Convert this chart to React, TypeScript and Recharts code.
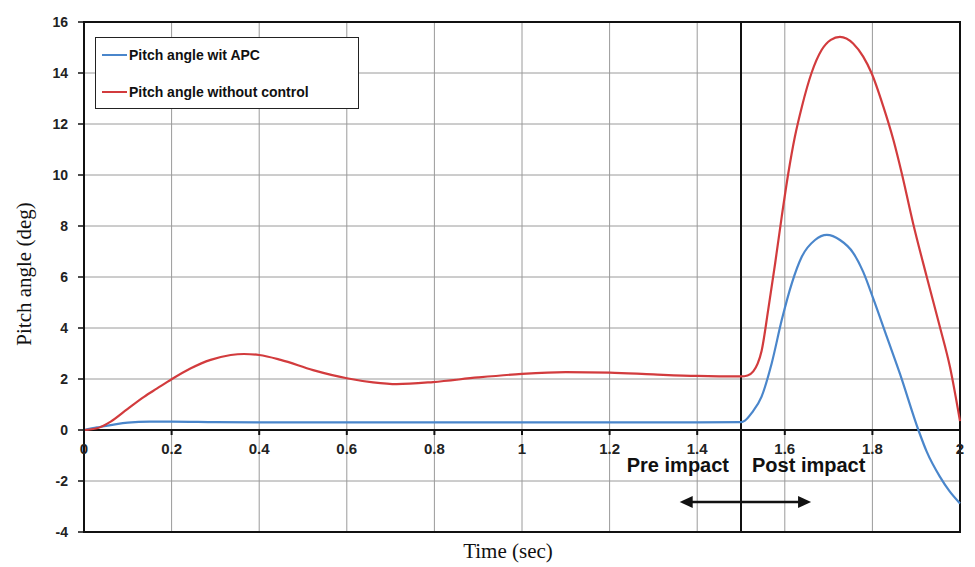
import React from 'react';
import {
  LineChart,
  Line,
  XAxis,
  YAxis,
  CartesianGrid,
  ReferenceLine,
  ReferenceDot,
  ReferenceArea,
  Legend,
} from 'recharts';

// ---- data ----
const xTicks = [0, 0.2, 0.4, 0.6, 0.8, 1, 1.2, 1.4, 1.6, 1.8, 2];
const yTicks = [-4, -2, 0, 2, 4, 6, 8, 10, 12, 14, 16];

const apcTime = [
  0, 0.03, 0.1, 0.15, 0.2, 0.3, 0.4, 0.6, 0.8, 1.0, 1.2, 1.4, 1.5, 1.509, 1.525, 1.547, 1.57,
  1.593, 1.616, 1.639, 1.669, 1.696, 1.726, 1.756, 1.779, 1.802, 1.833, 1.863, 1.905, 1.924,
  1.954, 1.976, 2.0,
];
const apcPitch = [
  0, 0.1, 0.29, 0.33, 0.33, 0.31, 0.3, 0.3, 0.3, 0.3, 0.3, 0.3, 0.31, 0.37, 0.68, 1.31, 2.61,
  4.31, 5.75, 6.8, 7.45, 7.65, 7.45, 6.95, 6.2, 5.15, 3.65, 2.2, 0, -0.85,
  -1.83, -2.4, -2.88,
];

const noCtrlTime = [
  0, 0.03, 0.061, 0.099, 0.137, 0.167, 0.2, 0.244, 0.289, 0.335, 0.365, 0.4, 0.449, 0.523,
  0.6, 0.66, 0.714, 0.797, 0.9, 1.0, 1.1, 1.2, 1.3, 1.4, 1.5, 1.515, 1.528, 1.538, 1.547,
  1.562, 1.578, 1.593, 1.608, 1.623, 1.639, 1.661, 1.684, 1.705, 1.726, 1.756, 1.779, 1.798,
  1.825, 1.848, 1.867, 1.893, 1.924, 1.954, 1.977, 2.0,
];
const noCtrlPitch = [
  0, 0.07, 0.33, 0.82, 1.3, 1.63, 1.99, 2.42, 2.75, 2.94, 2.98, 2.94, 2.75, 2.35,
  2.03, 1.87, 1.8, 1.88, 2.06, 2.2, 2.27, 2.25, 2.18, 2.12, 2.1, 2.14, 2.3, 2.6, 3.1,
  4.7, 6.54, 8.37, 10.07, 11.5, 12.68, 14.0, 14.9, 15.3, 15.42, 15.16, 14.64, 14.0,
  12.68, 11.37, 10.07, 8.1, 6.01, 4.05, 2.48, 0.35,
];

const seriesNames = ['Pitch angle wit APC', 'Pitch angle without control'];
const seriesColors = ['#4A86CB', '#D23B3D'];

const impactTime = 1.5;
const annotationLevel = -1.6;
const preLabel = 'Pre impact';
const postLabel = 'Post impact';
const arrowFrom = 1.36;
const arrowTo = 1.66;
const arrowLevel = -2.82;

const xLabel = 'Time (sec)';
const yLabel = 'Pitch angle (deg)';

const apcData = apcTime.map((t, i) => ({ t, v: apcPitch[i] }));
const noCtrlData = noCtrlTime.map((t, i) => ({ t, v: noCtrlPitch[i] }));

// ---- styles ----
const sansFont = '"Liberation Sans", Arial, sans-serif';
const serifFont = '"Liberation Serif", "Times New Roman", serif';

const XTick = (props: any) => {
  const { cx, cy, value } = props;
  return (
    <g>
      <line x1={cx} y1={cy} x2={cx} y2={cy + 5} stroke="#111" strokeWidth={2} />
      <text
        x={cx}
        y={cy + 24}
        textAnchor="middle"
        fontFamily={sansFont}
        fontWeight="bold"
        fontSize={15}
        fill="#222"
      >
        {value}
      </text>
    </g>
  );
};

const ImpactText = (props: any) => {
  const { cx, cy } = props;
  return (
    <g fontFamily={sansFont} fontWeight="bold" fontSize={20} fill="#111">
      <text x={cx - 12} y={cy + 1} textAnchor="end">
        {preLabel}
      </text>
      <text x={cx + 11} y={cy + 1} textAnchor="start">
        {postLabel}
      </text>
    </g>
  );
};

const DoubleArrow = (props: any) => {
  const { x1, y1, x2, y2 } = props;
  const ah = 13;
  const hw = 6;
  return (
    <g>
      <line x1={x1 + ah - 2} y1={y1} x2={x2 - ah + 2} y2={y2} stroke="#111" strokeWidth={2.5} />
      <polygon points={`${x1},${y1} ${x1 + ah},${y1 - hw} ${x1 + ah},${y1 + hw}`} fill="#111" />
      <polygon points={`${x2},${y2} ${x2 - ah},${y2 - hw} ${x2 - ah},${y2 + hw}`} fill="#111" />
    </g>
  );
};

const LegendBox = () => (
  <div
    style={{
      width: 264,
      height: 72,
      border: '1.5px solid #222',
      background: '#fff',
      fontFamily: sansFont,
      fontWeight: 'bold',
      fontSize: 14,
      color: '#111',
      position: 'relative',
      boxSizing: 'border-box',
    }}
  >
    {seriesNames.map((name, i) => (
      <div
        key={name}
        style={{
          position: 'absolute',
          left: 6,
          top: i === 0 ? 8 : 45,
          display: 'flex',
          alignItems: 'center',
          whiteSpace: 'nowrap',
          height: 18,
        }}
      >
        <span
          style={{
            display: 'inline-block',
            width: 25,
            height: 2,
            background: seriesColors[i],
            marginRight: 2,
          }}
        />
        <span>{name}</span>
      </div>
    ))}
  </div>
);

const YLabel = (props: any) => {
  const { viewBox } = props;
  const cy = viewBox.y + viewBox.height / 2 - 3;
  const x = 31;
  return (
    <text
      x={x}
      y={cy}
      transform={`rotate(-90, ${x}, ${cy})`}
      textAnchor="middle"
      fontFamily={serifFont}
      fontSize={21}
      fill="#111"
    >
      {yLabel}
    </text>
  );
};

const XLabel = (props: any) => {
  const { viewBox } = props;
  return (
    <text
      x={508}
      y={viewBox.y + 26}
      textAnchor="middle"
      fontFamily={serifFont}
      fontSize={21}
      fill="#111"
    >
      {xLabel}
    </text>
  );
};

function XLabelWrap(props: any) {
  return <XLabel {...props} />;
}

function YLabelWrap(props: any) {
  return <YLabel {...props} />;
}

export default function App() {
  return (
    <div style={{ position: 'absolute', left: 0, top: 0, background: '#fff' }}>
      <LineChart
        width={975}
        height={567}
        margin={{ top: 22, right: 15, bottom: 0, left: 0 }}
      >
        <CartesianGrid stroke="#9a9a9a" strokeWidth={1} />
        <XAxis
          type="number"
          dataKey="t"
          domain={[0, 2]}
          ticks={xTicks}
          interval={0}
          height={35}
          axisLine={false}
          tickLine={false}
          tick={() => <g />}
          label={<XLabelWrap />}
          allowDuplicatedCategory={false}
        />
        <YAxis
          type="number"
          domain={[-4, 16]}
          ticks={yTicks}
          interval={0}
          width={84}
          axisLine={{ stroke: '#111', strokeWidth: 2 }}
          tickLine={{ stroke: '#111', strokeWidth: 1.5 }}
          tickSize={6}
          tickMargin={10}
          tick={{ fontFamily: sansFont, fontWeight: 'bold', fontSize: 14, fill: '#222' }}
          label={<YLabelWrap />}
        />
        <ReferenceArea
          x1={0}
          x2={2}
          y1={-4}
          y2={16}
          fill="none"
          fillOpacity={0}
          stroke="#111"
          strokeWidth={2}
        />
        <ReferenceLine y={0} stroke="#111" strokeWidth={2} />
        <ReferenceLine x={impactTime} stroke="#111" strokeWidth={2} />
        {xTicks.map((t) => (
          <ReferenceDot
            key={t}
            x={t}
            y={0}
            r={0}
            shape={(p: any) => <XTick {...p} value={t} />}
          />
        ))}
        <ReferenceDot x={impactTime} y={annotationLevel} r={0} shape={(p: any) => <ImpactText {...p} />} />
        <ReferenceLine
          segment={[
            { x: arrowFrom, y: arrowLevel },
            { x: arrowTo, y: arrowLevel },
          ]}
          shape={(p: any) => <DoubleArrow {...p} />}
        />
        <Line
          data={apcData}
          dataKey="v"
          name={seriesNames[0]}
          type="monotone"
          stroke={seriesColors[0]}
          strokeWidth={2.2}
          dot={false}
          activeDot={false}
          isAnimationActive={false}
        />
        <Line
          data={noCtrlData}
          dataKey="v"
          name={seriesNames[1]}
          type="monotone"
          stroke={seriesColors[1]}
          strokeWidth={2.2}
          dot={false}
          activeDot={false}
          isAnimationActive={false}
        />
        <Legend
          layout="vertical"
          align="center"
          verticalAlign="middle"
          wrapperStyle={{ position: 'absolute', left: 95, top: 37, width: 265, height: 73 }}
          content={() => <LegendBox />}
        />
      </LineChart>
    </div>
  );
}
